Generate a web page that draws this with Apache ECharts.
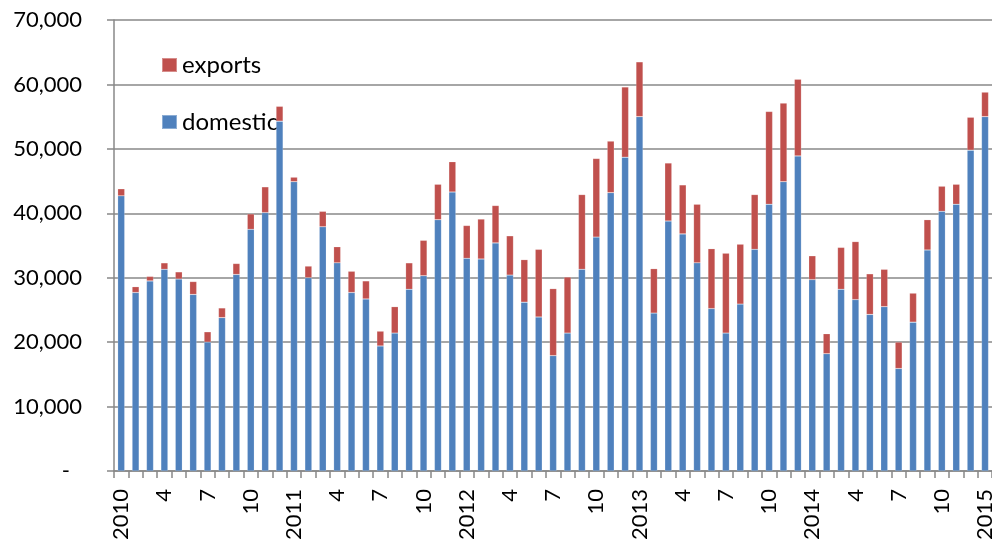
<!DOCTYPE html>
<html>
<head>
<meta charset="utf-8">
<script src="https://cdn.jsdelivr.net/npm/echarts@6/dist/echarts.min.js"></script>
<style>
    html, body { margin: 0; padding: 0; background: #fff; overflow: hidden; }
    #chart { width: 996px; height: 543px; }
</style>
</head>
<body>
<div id="chart"></div>
<script>
    // monthly, Jan 2010 .. Jan 2015
    var categories = [
        '2010', '2', '3', '4', '5', '6', '7', '8', '9', '10', '11', '12',
        '2011', '2', '3', '4', '5', '6', '7', '8', '9', '10', '11', '12',
        '2012', '2', '3', '4', '5', '6', '7', '8', '9', '10', '11', '12',
        '2013', '2', '3', '4', '5', '6', '7', '8', '9', '10', '11', '12',
        '2014', '2', '3', '4', '5', '6', '7', '8', '9', '10', '11', '12',
        '2015'
    ];

    var domestic = [
        42700, 27700, 29500, 31300, 29800, 27400, 20000, 23800, 30500, 37500, 40100, 54300,
        44900, 30000, 37900, 32300, 27700, 26700, 19400, 21400, 28200, 30300, 39000, 43300,
        33000, 32900, 35400, 30400, 26200, 23900, 17900, 21400, 31300, 36300, 43200, 48700,
        55000, 24500, 38800, 36800, 32300, 25200, 21400, 25900, 34400, 41400, 44900, 48900,
        29700, 18200, 28200, 26600, 24300, 25500, 15900, 23100, 34300, 40300, 41400, 49800,
        55000
    ];

    var exports = [
        1100, 900, 700, 1000, 1100, 2000, 1600, 1500, 1700, 2400, 4000, 2300,
        700, 1800, 2400, 2500, 3300, 2800, 2300, 4100, 4100, 5500, 5500, 4700,
        5100, 6200, 5800, 6100, 6600, 10500, 10400, 8700, 11600, 12200, 8000, 10900,
        8500, 6900, 9000, 7600, 9100, 9300, 12400, 9300, 8500, 14400, 12200, 11900,
        3700, 3100, 6500, 9000, 6300, 5800, 4100, 4500, 4700, 3900, 3100, 5100,
        3800
    ];

    var yTicks = [0, 10000, 20000, 30000, 40000, 50000, 60000, 70000];

    var FONT = 'Lato';
    var GRID_COLOR = '#888888';

    var chart = echarts.init(document.getElementById('chart'), null, { renderer: 'canvas' });

    var option = {
        animation: false,
        textStyle: { fontFamily: FONT, color: '#000' },
        grid: { left: 114, right: 0, top: 20, bottom: 72, containLabel: false },
        legend: {
            orient: 'vertical',
            left: 161,
            top: 53,
            z: 1,
            padding: 0,
            icon: 'rect',
            itemWidth: 15,
            itemHeight: 14,
            itemGap: 33,
            data: ['exports', 'domestic'],
            textStyle: { fontFamily: FONT, fontSize: 24, color: '#000' }
        },
        xAxis: {
            type: 'category',
            data: categories,
            axisLine: { lineStyle: { color: GRID_COLOR, width: 1.5 } },
            axisTick: {
                show: true,
                alignWithLabel: false,
                interval: 0,
                length: 7,
                lineStyle: { color: GRID_COLOR, width: 1.5 }
            },
            axisLabel: {
                interval: function (idx) { return idx % 3 === 0; },
                rotate: 90,
                margin: 18,
                fontFamily: FONT,
                fontSize: 22,
                color: '#000'
            }
        },
        yAxis: {
            type: 'value',
            min: yTicks[0],
            max: yTicks[yTicks.length - 1],
            interval: 10000,
            axisLine: { show: true, lineStyle: { color: GRID_COLOR, width: 1.5 } },
            axisTick: { show: true, length: 7, lineStyle: { color: GRID_COLOR, width: 1.5 } },
            splitLine: { show: true, lineStyle: { color: GRID_COLOR, width: 1.5 } },
            axisLabel: {
                margin: 32,
                fontFamily: FONT,
                fontSize: 22,
                color: '#000',
                formatter: function (v) {
                    if (v === 0) { return '{z|-}'; }
                    return v.toLocaleString('en-US');
                },
                rich: {
                    z: { fontFamily: FONT, fontSize: 22, color: '#000', padding: [0, 12, 0, 0] }
                }
            }
        },
        series: [
            {
                name: 'domestic',
                type: 'bar',
                stack: 'total',
                barWidth: 7,
                z: 3,
                data: domestic,
                itemStyle: { color: '#4f81bd', borderColor: 'rgba(255,255,255,0.35)', borderWidth: 0.5 }
            },
            {
                name: 'exports',
                type: 'bar',
                stack: 'total',
                barWidth: 7,
                z: 3,
                data: exports,
                itemStyle: { color: '#c0504d', borderColor: 'rgba(255,255,255,0.35)', borderWidth: 0.5 }
            }
        ]
    };

    chart.setOption(option);
</script>
</body>
</html>
